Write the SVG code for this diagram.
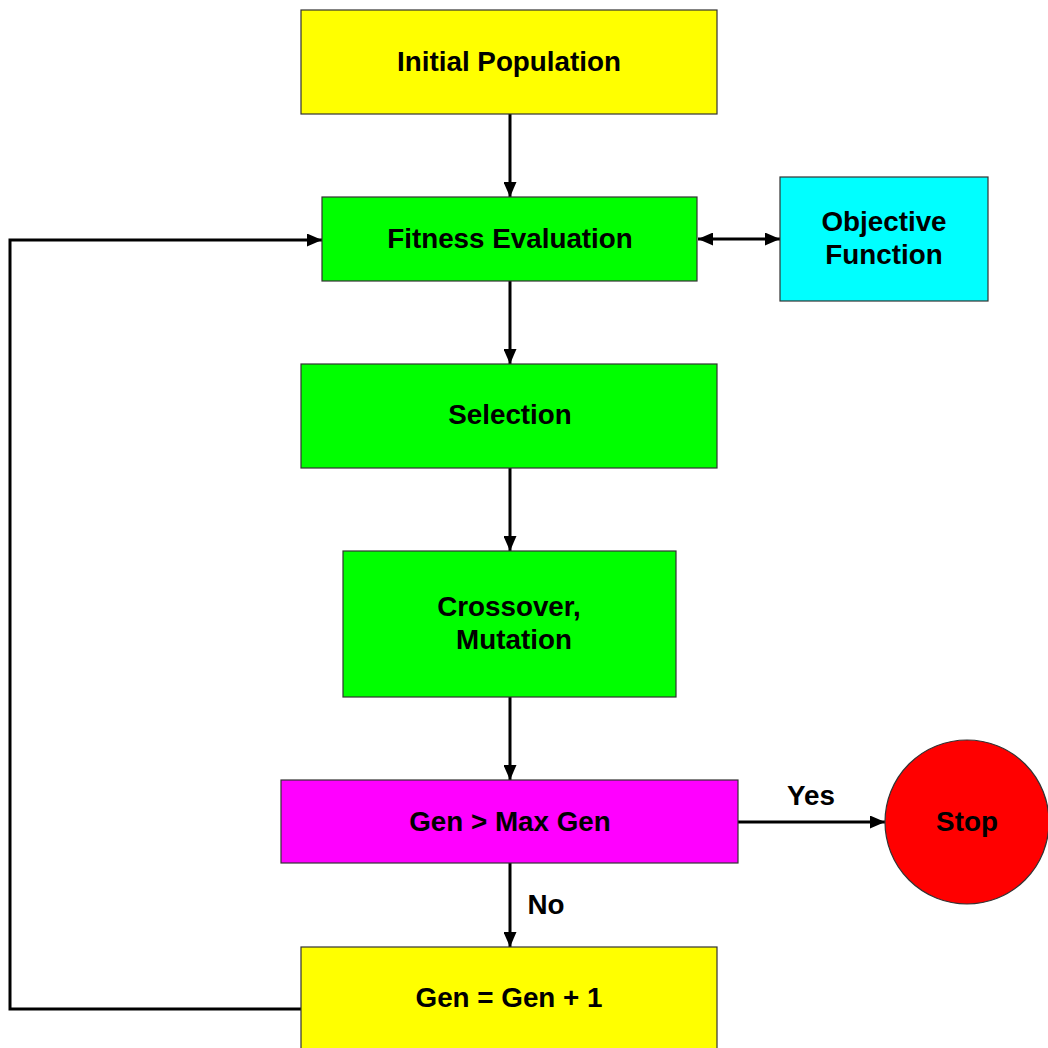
<svg xmlns="http://www.w3.org/2000/svg" width="1048" height="1048" viewBox="0 0 1048 1048">
<defs>
<marker id="ah" viewBox="0 0 15 13" refX="15" refY="6.5" markerWidth="15" markerHeight="13" markerUnits="userSpaceOnUse" orient="auto-start-reverse">
<path d="M0,0 L15,6.5 L0,13 Z" fill="#000"/>
</marker>
<style>
.box{stroke:#333;stroke-width:1.2}
.t{font-family:"Liberation Sans",Arial,sans-serif;font-weight:bold;font-size:27.8px;fill:#000;text-anchor:middle}
.c{stroke:#000;stroke-width:3;fill:none}
</style>
</defs>
<rect width="1048" height="1048" fill="#fff"/>
<g id="connectors">
<line class="c" x1="510" y1="114" x2="510" y2="197" marker-end="url(#ah)"/>
<line class="c" x1="510" y1="281" x2="510" y2="364" marker-end="url(#ah)"/>
<line class="c" x1="510" y1="468" x2="510" y2="551" marker-end="url(#ah)"/>
<line class="c" x1="510" y1="697" x2="510" y2="780" marker-end="url(#ah)"/>
<line class="c" x1="510" y1="863" x2="510" y2="947" marker-end="url(#ah)"/>
<line class="c" x1="698" y1="239" x2="780" y2="239" marker-start="url(#ah)" marker-end="url(#ah)"/>
<line class="c" x1="738" y1="822" x2="885" y2="822" marker-end="url(#ah)"/>
<polyline class="c" points="301,1009 10,1009 10,240 322,240" marker-end="url(#ah)"/>
<text class="t" x="811" y="805">Yes</text>
<text class="t" x="546" y="914">No</text>
</g>
<g id="initial">
<rect class="box" x="301" y="10" width="416" height="104" fill="#ffff00"/>
<text class="t" x="509" y="71">Initial Population</text>
</g>
<g id="fitness">
<rect class="box" x="322" y="197" width="375" height="84" fill="#00ff00"/>
<text class="t" x="510" y="248">Fitness Evaluation</text>
</g>
<g id="objective">
<rect class="box" x="780" y="177" width="208" height="124" fill="#00ffff"/>
<text class="t" x="884" y="231">Objective</text>
<text class="t" x="884" y="264">Function</text>
</g>
<g id="selection">
<rect class="box" x="301" y="364" width="416" height="104" fill="#00ff00"/>
<text class="t" x="510" y="424">Selection</text>
</g>
<g id="crossover">
<rect class="box" x="343" y="551" width="333" height="146" fill="#00ff00"/>
<text class="t" x="509" y="616">Crossover,</text>
<text class="t" x="514" y="649">Mutation</text>
</g>
<g id="gencheck">
<rect class="box" x="281" y="780" width="457" height="83" fill="#ff00ff"/>
<text class="t" x="510" y="831">Gen &gt; Max Gen</text>
</g>
<g id="stop">
<circle class="box" cx="967" cy="822" r="82" fill="#ff0000"/>
<text class="t" x="967" y="831">Stop</text>
</g>
<g id="increment">
<rect class="box" x="301" y="947" width="416" height="110" fill="#ffff00"/>
<text class="t" x="509" y="1007">Gen = Gen + 1</text>
</g>
</svg>
